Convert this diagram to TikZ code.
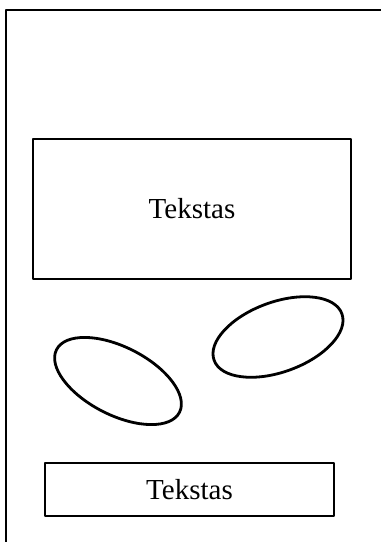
\documentclass[tikz,border=0pt]{standalone}
\usepackage{fontspec}
\setmainfont{Liberation Serif}
\usetikzlibrary{shapes.geometric}
\tikzset{
    lab/.style={
        font=\fontsize{29}{35}\selectfont
    }
}

\begin{document}
\begin{tikzpicture}[x=1pt,y=-1pt, line cap=round, line join=round]

\tikzset{
  box/.style={draw=black, line width=2.8pt, inner sep=0pt, lab},
  oval/.style={draw=black, ellipse, line width=2.8pt, inner sep=0pt}
}

\useasboundingbox (0,0) rectangle (381,542);

% outer frame, running off the page
\coordinate (framebl) at (6,560);
\coordinate (frametl) at (6,10);
\coordinate (frametr) at (400,10);
\draw[line width=2.8pt, line cap=butt] (framebl) -- (frametl) -- (frametr);

\node[box, minimum width=318pt, minimum height=140pt] (mainbox) at (192,209) {Tekstas};
\node[box, minimum width=289pt, minimum height=53pt] (captionbox) at (189.5,489.5) {Tekstas};

\node[oval, minimum width=136pt, minimum height=70pt, rotate=20] (ovalright) at (278,337) {};
\node[oval, minimum width=138pt, minimum height=68pt, rotate=-27] (ovalleft) at (118,381) {};

\end{tikzpicture}
\end{document}
